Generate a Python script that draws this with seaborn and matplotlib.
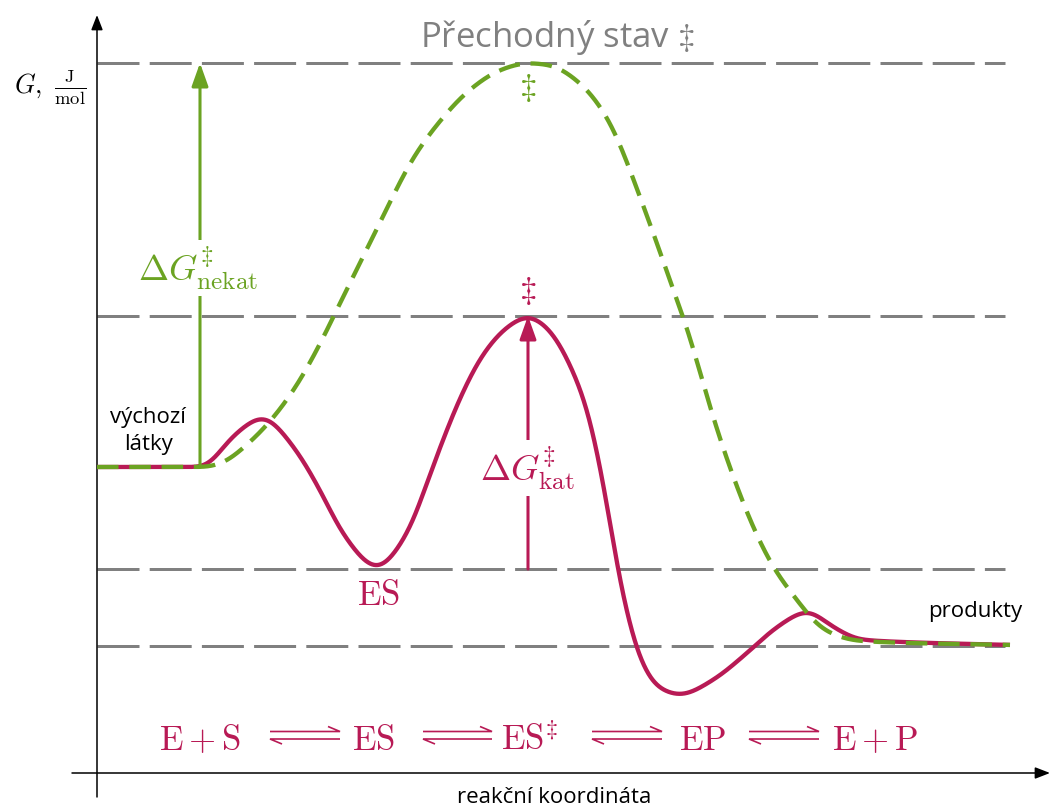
import numpy as np
import matplotlib
matplotlib.use("Agg")
import matplotlib.pyplot as plt
import seaborn as sns

# Energy profile of an enzyme-catalysed reaction (arbitrary units)
# reaction coordinate / Gibbs energy of the catalysed path
kat_x = [0, 106, 136, 166, 196, 223, 246, 280, 310, 336, 363, 386, 410, 431, 450,
         466, 478, 488, 500, 509.5, 520, 530.5, 543, 560, 583, 616, 650, 680, 711,
         733, 745, 760, 783, 913]
kat_G = [306, 306, 337, 356, 327, 283, 239, 205, 239, 307, 375, 419, 446, 457, 446,
         423, 397, 373, 323, 273, 206, 156, 113, 86, 78, 93, 120, 146, 162,
         148, 141, 134, 132, 128]

# uncatalysed path
nekat_x = [0, 108, 123, 153, 176, 200, 223, 246, 270, 293, 316, 343, 370, 403, 430,
           453, 483, 510, 546, 580, 590, 606, 621, 640, 656, 676, 700, 723, 743, 763, 913]
nekat_G = [306, 306, 309, 331, 355, 388, 429, 476, 524, 571, 615, 652, 681, 703, 710,
           708, 690, 656, 568, 473, 446, 390, 340, 286, 246, 206, 173, 146, 136, 132, 128]

# reference energy levels: uncatalysed TS, catalysed TS, ES, products
levels = [710, 457, 204, 127]
level_end = 908

# barrier arrows (x position, from G, to G)
dG_nekat = (103, 306, 710)
dG_kat = (431, 204, 457)

# reaction scheme along the bottom
scheme_terms = [r"$\mathrm{E}+\mathrm{S}$", r"$\mathrm{ES}$", r"$\mathrm{ES}^{\ddagger}$",
                r"$\mathrm{EP}$", r"$\mathrm{E}+\mathrm{P}$"]
scheme_x = [103, 276, 433, 606, 778]
harpoon_x = [(173, 243), (326, 395), (495, 565), (652, 722)]

RED = "#B81A55"
GREEN = "#6BA322"
GRAY = "#808080"


def smooth(x, y, n=2400, sigma=8.0):
    """Monotone cubic (PCHIP) curve through the points, lightly Gaussian-smoothed."""
    x = np.asarray(x, float)
    y = np.asarray(y, float)
    h = np.diff(x)
    d = np.diff(y) / h
    m = np.zeros_like(y)
    for k in range(1, len(x) - 1):
        if d[k - 1] * d[k] > 0:
            w1 = 2 * h[k] + h[k - 1]
            w2 = h[k] + 2 * h[k - 1]
            m[k] = (w1 + w2) / (w1 / d[k - 1] + w2 / d[k])
    m[-1] = d[-1]
    xs = np.linspace(x[0], x[-1], n)
    i = np.clip(np.searchsorted(x, xs, side="right") - 1, 0, len(h) - 1)
    t = (xs - x[i]) / h[i]
    h00 = 2 * t**3 - 3 * t**2 + 1
    h10 = t**3 - 2 * t**2 + t
    h01 = -2 * t**3 + 3 * t**2
    h11 = t**3 - t**2
    ys = h00 * y[i] + h10 * h[i] * m[i] + h01 * y[i + 1] + h11 * h[i] * m[i + 1]
    step = xs[1] - xs[0]
    r = int(4 * sigma / step)
    kern = np.exp(-0.5 * (np.arange(-r, r + 1) * step / sigma) ** 2)
    kern /= kern.sum()
    ys = np.convolve(np.pad(ys, r, mode="edge"), kern, mode="valid")
    return xs, ys


sns.set_theme(style="white")
SANS = ["Open Sans", "DejaVu Sans"]
plt.rcParams["font.family"] = SANS
plt.rcParams["mathtext.fontset"] = "cm"

fig = plt.figure(figsize=(10.51, 8.07), dpi=100)
ax = fig.add_axes([0, 0, 1, 1])
ax.set_xlim(-97, 954)
ax.set_ylim(-34, 773)
ax.axis("off")

# dashed reference levels
ax.hlines(levels, 0, level_end, colors=GRAY, linewidth=2.16,
          linestyles=[(0, (14, 3.4))], zorder=1)

# coordinate axes
ax.annotate("", xy=(0, 758), xytext=(0, -24),
            arrowprops=dict(arrowstyle="-|>,head_length=0.9,head_width=0.35",
                            color="black", lw=1.1, shrinkA=0, shrinkB=0,
                            mutation_scale=10), zorder=2)
ax.annotate("", xy=(953, 0), xytext=(-25, 0),
            arrowprops=dict(arrowstyle="-|>,head_length=0.9,head_width=0.35",
                            color="black", lw=1.1, shrinkA=0, shrinkB=0,
                            mutation_scale=10), zorder=2)

# energy profiles
kx, kg = smooth(kat_x, kat_G)
nx, ng = smooth(nekat_x, nekat_G)
sns.lineplot(x=kx, y=kg, ax=ax, color=RED, linewidth=3.1, estimator=None,
             sort=False, solid_capstyle="butt", zorder=3)
sns.lineplot(x=nx, y=ng, ax=ax, color=GREEN, linewidth=3.1, estimator=None,
             sort=False, linestyle=(0, (5, 2.5)), dash_capstyle="butt", zorder=4)

# barrier arrows
for (xa, g0, g1), col in ((dG_nekat, GREEN), (dG_kat, RED)):
    ax.annotate("", xy=(xa, g1), xytext=(xa, g0),
                arrowprops=dict(arrowstyle="-|>,head_length=1.4,head_width=0.5",
                                color=col, lw=2.2, shrinkA=0, shrinkB=0,
                                mutation_scale=10), zorder=5)

box = dict(facecolor="white", edgecolor="none", pad=3)
ax.text(dG_nekat[0] - 2, 505, r"$\Delta G^{\ddagger}_{\mathrm{nekat}}$", color=GREEN,
        fontsize=26, ha="center", va="center", bbox=box, zorder=6)
ax.text(dG_kat[0] - 1, 305, r"$\Delta G^{\ddagger}_{\mathrm{kat}}$", color=RED,
        fontsize=26, ha="center", va="center", bbox=box, zorder=6)
ax.text(431, 685, r"$\ddagger$", color=GREEN, fontsize=25, ha="center", va="center", zorder=6)
ax.text(431, 482, r"$\ddagger$", color=RED, fontsize=25, ha="center", va="center", zorder=6)
ax.text(281, 177, r"$\mathrm{ES}$", color=RED, fontsize=25, ha="center", va="center", zorder=6)

# plain labels
ax.text(460, 726, "Přechodný stav $\\ddagger$", color=GRAY, fontsize=25,
        ha="center", va="baseline")
ax.text(51, 350, "výchozí", color="black", fontsize=16, ha="center", va="baseline")
ax.text(51, 323, "látky", color="black", fontsize=16, ha="center", va="baseline")
ax.text(878, 156, "produkty", color="black", fontsize=16, ha="center", va="baseline")
ax.text(457, -30, "reakční koordináta", color="black", fontsize=16,
        ha="center", va="baseline")
ax.text(-47, 685, r"$G,\ \frac{\mathrm{J}}{\mathrm{mol}}$", color="black",
        fontsize=19, ha="center", va="center")

# reaction scheme with equilibrium harpoons
for term, xt in zip(scheme_terms, scheme_x):
    ax.text(xt, 23, term, color=RED, fontsize=25, ha="center", va="baseline")
for x0, x1 in harpoon_x:
    ax.plot([x0, x1, x1 - 12], [41.5, 41.5, 46.5], color=RED, lw=1.2,
            solid_joinstyle="miter", solid_capstyle="butt")
    ax.plot([x1, x0, x0 + 12], [34, 34, 29], color=RED, lw=1.2,
            solid_joinstyle="miter", solid_capstyle="butt")

fig.savefig("out.png", dpi=100)
